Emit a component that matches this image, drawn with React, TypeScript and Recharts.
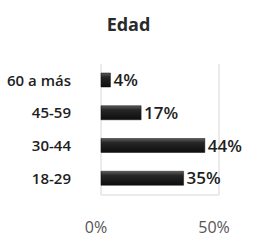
import React from "react";
import { BarChart, Bar, XAxis, YAxis, CartesianGrid, LabelList } from "recharts";

const categories = ["60 a más", "45-59", "30-44", "18-29"];
const values = [4, 17, 44, 35];
const xTicks = [0, 50];

const data = categories.map((name, i) => ({ name, value: values[i] }));

export default function App() {
  return (
    <div style={{ position: "absolute", left: 0, top: 0, width: 257, height: 241, background: "#fff" }}>
      <div
        style={{
          position: "absolute",
          top: 12,
          left: 0,
          width: 257,
          textAlign: "center",
          fontFamily: "Open Sans",
          fontWeight: 700,
          fontSize: 18,
          lineHeight: "24px",
          color: "#2a2a2a",
        }}
      >
        Edad
      </div>
      <BarChart
        width={257}
        height={241}
        data={data}
        layout="vertical"
        margin={{ top: 64, right: 38, left: 0, bottom: 0 }}
        barCategoryGap={0}
      >
        <defs>
          <linearGradient id="barFill" x1="0" y1="0" x2="0" y2="1">
            <stop offset="0%" stopColor="#5c5c5c" />
            <stop offset="30%" stopColor="#262626" />
            <stop offset="100%" stopColor="#0e0e0e" />
          </linearGradient>
        </defs>
        <CartesianGrid horizontal={false} stroke="#d6d6d6" />
        <XAxis
          type="number"
          domain={[0, 50]}
          ticks={xTicks}
          tickFormatter={(v: number) => `${v}%`}
          axisLine={{ stroke: "#d6d6d6" }}
          tickLine={false}
          height={46}
          tickMargin={21}
          tick={{ fontFamily: "Open Sans", fontSize: 16, fill: "#555", dx: -5 }}
        />
        <YAxis
          type="category"
          dataKey="name"
          width={101}
          axisLine={false}
          tickLine={false}
          tickMargin={24}
          tick={{ fontFamily: "Open Sans", fontWeight: 600, fontSize: 15, fill: "#1e1e1e" }}
        />
        <Bar dataKey="value" barSize={14} fill="url(#barFill)" stroke="#0e0e0e" strokeWidth={0.5} isAnimationActive={false}>
          <LabelList
            dataKey="value"
            position="right"
            offset={3}
            formatter={(v: number) => `${v}%`}
            style={{ fontFamily: "Open Sans", fontWeight: 600, fontSize: 17, fill: "#1e1e1e" }}
          />
        </Bar>
      </BarChart>
    </div>
  );
}
